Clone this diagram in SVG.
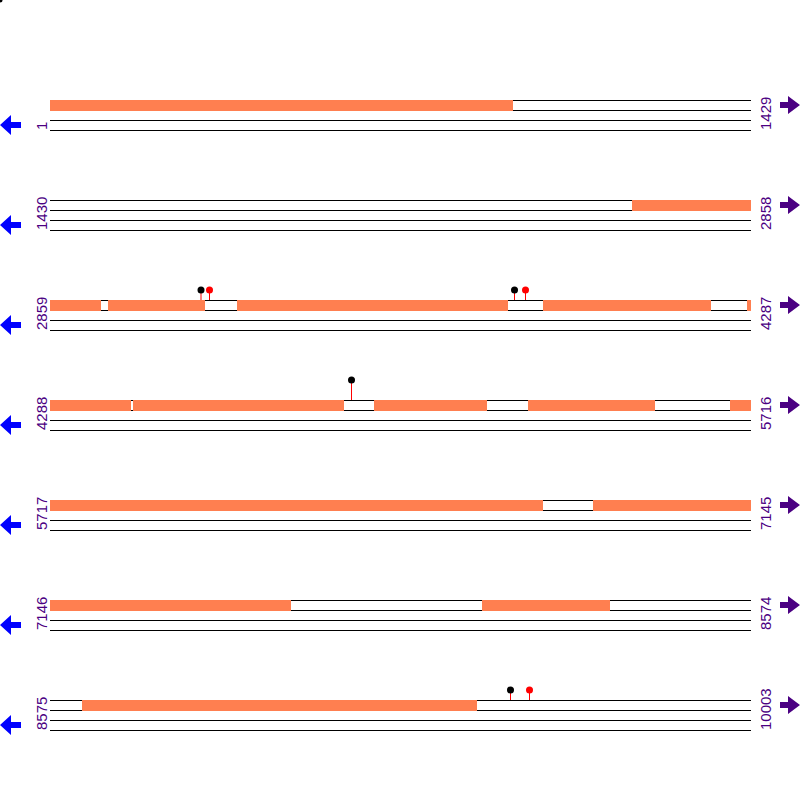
<svg xmlns="http://www.w3.org/2000/svg" width="800" height="800" viewBox="0 0 800 800">
<style>
.ln{stroke:#000;stroke-width:1;fill:none}
.ex{fill:#FF7F50}
.lab{font-family:"Liberation Sans",Arial,sans-serif;font-size:15px;fill:#4B0082}
.stem{stroke:#FF0000;stroke-width:1}
.lb{fill:#000}
.lr{fill:#FF0000}
.al{fill:#0000FF}
.ar{fill:#4B0082}
</style>
<defs>
<g id="rowlines">
<line class="ln" x1="50" y1="0.5" x2="751" y2="0.5"/>
<line class="ln" x1="50" y1="10.5" x2="751" y2="10.5"/>
<line class="ln" x1="50" y1="20.5" x2="751" y2="20.5"/>
<line class="ln" x1="50" y1="30.5" x2="751" y2="30.5"/>
</g>
<polygon id="larrow" points="0,25 11,15 11,22 21,22 21,28 11,28 11,35"/>
<polygon id="rarrow" points="800,5 788,-4 788,2 780,2 780,8 788,8 788,14"/>
</defs>
<circle cx="0" cy="0" r="2.5" fill="#000"/>

<g id="row1" transform="translate(0,100)">
<use href="#rowlines"/>
<rect class="ex" x="50" y="0" width="463" height="11"/>
<text class="lab" transform="translate(47,30) rotate(-90)">1</text>
<text class="lab" transform="translate(771,30) rotate(-90)">1429</text>
<use href="#larrow" class="al"/>
<use href="#rarrow" class="ar"/>
</g>

<g id="row2" transform="translate(0,200)">
<use href="#rowlines"/>
<rect class="ex" x="632" y="0" width="119" height="11"/>
<text class="lab" transform="translate(47,30) rotate(-90)">1430</text>
<text class="lab" transform="translate(771,30) rotate(-90)">2858</text>
<use href="#larrow" class="al"/>
<use href="#rarrow" class="ar"/>
</g>

<g id="row3" transform="translate(0,300)">
<use href="#rowlines"/>
<rect class="ex" x="50" y="0" width="51" height="11"/>
<rect class="ex" x="108" y="0" width="97" height="11"/>
<rect class="ex" x="237" y="0" width="271" height="11"/>
<rect class="ex" x="543" y="0" width="168" height="11"/>
<rect class="ex" x="747" y="0" width="4" height="11"/>
<line class="stem" x1="201" y1="-10" x2="201" y2="0"/>
<circle class="lb" cx="201" cy="-10" r="3.5"/>
<line class="stem" x1="209.5" y1="-10" x2="209.5" y2="0"/>
<circle class="lr" cx="209.5" cy="-10" r="3.5"/>
<line class="stem" x1="514.5" y1="-10" x2="514.5" y2="0"/>
<circle class="lb" cx="514.5" cy="-10" r="3.5"/>
<line class="stem" x1="525.5" y1="-10" x2="525.5" y2="0"/>
<circle class="lr" cx="525.5" cy="-10" r="3.5"/>
<text class="lab" transform="translate(47,30) rotate(-90)">2859</text>
<text class="lab" transform="translate(771,30) rotate(-90)">4287</text>
<use href="#larrow" class="al"/>
<use href="#rarrow" class="ar"/>
</g>

<g id="row4" transform="translate(0,400)">
<use href="#rowlines"/>
<rect class="ex" x="50" y="0" width="81" height="11"/>
<rect class="ex" x="133" y="0" width="211" height="11"/>
<rect class="ex" x="374" y="0" width="113" height="11"/>
<rect class="ex" x="528" y="0" width="127" height="11"/>
<rect class="ex" x="730" y="0" width="21" height="11"/>
<line class="stem" x1="351.5" y1="-20" x2="351.5" y2="0"/>
<circle class="lb" cx="351.5" cy="-20" r="3.5"/>
<text class="lab" transform="translate(47,30) rotate(-90)">4288</text>
<text class="lab" transform="translate(771,30) rotate(-90)">5716</text>
<use href="#larrow" class="al"/>
<use href="#rarrow" class="ar"/>
</g>

<g id="row5" transform="translate(0,500)">
<use href="#rowlines"/>
<rect class="ex" x="50" y="0" width="493" height="11"/>
<rect class="ex" x="593" y="0" width="158" height="11"/>
<text class="lab" transform="translate(47,30) rotate(-90)">5717</text>
<text class="lab" transform="translate(771,30) rotate(-90)">7145</text>
<use href="#larrow" class="al"/>
<use href="#rarrow" class="ar"/>
</g>

<g id="row6" transform="translate(0,600)">
<use href="#rowlines"/>
<rect class="ex" x="50" y="0" width="241" height="11"/>
<rect class="ex" x="482" y="0" width="128" height="11"/>
<text class="lab" transform="translate(47,30) rotate(-90)">7146</text>
<text class="lab" transform="translate(771,30) rotate(-90)">8574</text>
<use href="#larrow" class="al"/>
<use href="#rarrow" class="ar"/>
</g>

<g id="row7" transform="translate(0,700)">
<use href="#rowlines"/>
<rect class="ex" x="82" y="0" width="395" height="11"/>
<line class="stem" x1="510.5" y1="-10" x2="510.5" y2="0"/>
<circle class="lb" cx="510.5" cy="-10" r="3.5"/>
<line class="stem" x1="529.5" y1="-10" x2="529.5" y2="0"/>
<circle class="lr" cx="529.5" cy="-10" r="3.5"/>
<text class="lab" transform="translate(47,30) rotate(-90)">8575</text>
<text class="lab" transform="translate(771,30) rotate(-90)">10003</text>
<use href="#larrow" class="al"/>
<use href="#rarrow" class="ar"/>
</g>
</svg>
